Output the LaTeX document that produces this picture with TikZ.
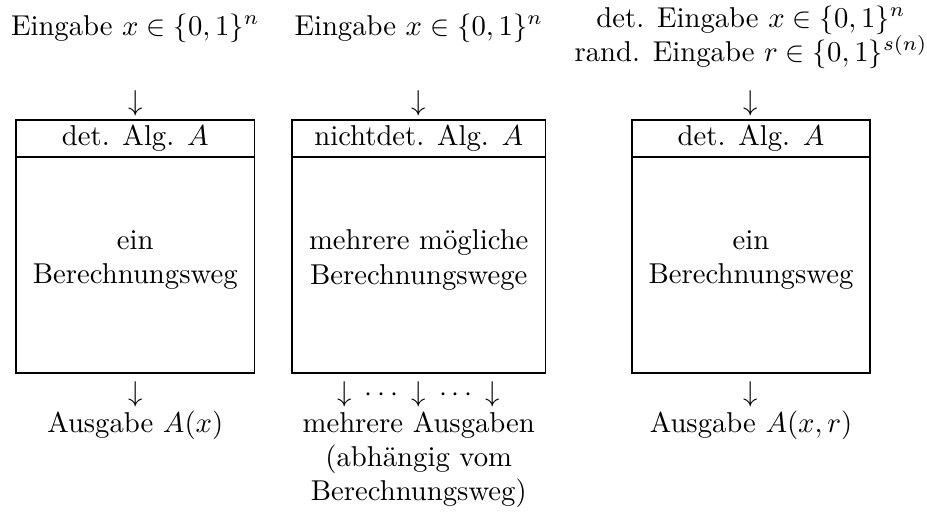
\documentclass[tikz,border=0pt]{standalone}
\usepackage{fontspec}
\begin{document}
\begin{tikzpicture}[x=0.34843pt,y=-0.34843pt,
  txt/.style={inner sep=0pt, outer sep=0pt, anchor=base},
  mid/.style={inner sep=0pt, outer sep=0pt, align=center},
  hdr/.style={draw, line width=0.4pt, inner sep=0pt, minimum height=12.89pt},
  body/.style={draw, line width=0.4pt, inner sep=0pt, minimum height=75.26pt}]
\useasboundingbox (0,0) rectangle (927,513);
% inputs
\node[txt] (in1) at (135.25,35) {Eingabe $x\in\{0,1\}^n$};
\node[txt] (in2) at (418.75,35) {Eingabe $x\in\{0,1\}^n$};
\node[txt] (in3a) at (751,27) {det. Eingabe $x\in\{0,1\}^n$};
\node[txt] (in3b) at (751,61) {rand. Eingabe $r\in\{0,1\}^{s(n)}$};
% top arrows
\node[txt] (ta1) at (135.25,110) {$\downarrow$};
\node[txt] (ta2) at (418.75,110) {$\downarrow$};
\node[txt] (ta3) at (751,110) {$\downarrow$};
% boxes
\node[hdr, minimum width=83.1pt] (h1) at (135.25,138.5) {det. Alg. $A$};
\node[body, minimum width=83.1pt] (b1) at (135.25,265) {};
\node[mid] (t1) at (135.25,260) {ein\\Berechnungsweg};
\node[hdr, minimum width=88.33pt] (h2) at (418.75,138.5) {nichtdet. Alg. $A$};
\node[body, minimum width=88.33pt] (b2) at (418.75,265) {};
\node[mid] (t2) at (418.75,260) {mehrere mögliche\\Berechnungswege};
\node[hdr, minimum width=82.93pt] (h3) at (751,138.5) {det. Alg. $A$};
\node[body, minimum width=82.93pt] (b3) at (751,265) {};
\node[mid] (t3) at (751,260) {ein\\Berechnungsweg};
% bottom arrows
\node[txt] (ba1) at (135.25,401) {$\downarrow$};
\node[txt] (ba2) at (418.75,401) {$\downarrow$\hspace{4.6pt}$\cdots$\hspace{4.6pt}$\downarrow$\hspace{4.6pt}$\cdots$\hspace{4.6pt}$\downarrow$};
\node[txt] (ba3) at (751,401) {$\downarrow$};
% outputs
\node[txt] (o1) at (135.25,432) {Ausgabe $A(x)$};
\node[txt] (o2a) at (418.75,432) {mehrere Ausgaben};
\node[txt] (o2b) at (418.75,466) {(abhängig vom};
\node[txt] (o2c) at (418.75,500) {Berechnungsweg)};
\node[txt] (o3) at (751,432) {Ausgabe $A(x,r)$};
\end{tikzpicture}
\end{document}
